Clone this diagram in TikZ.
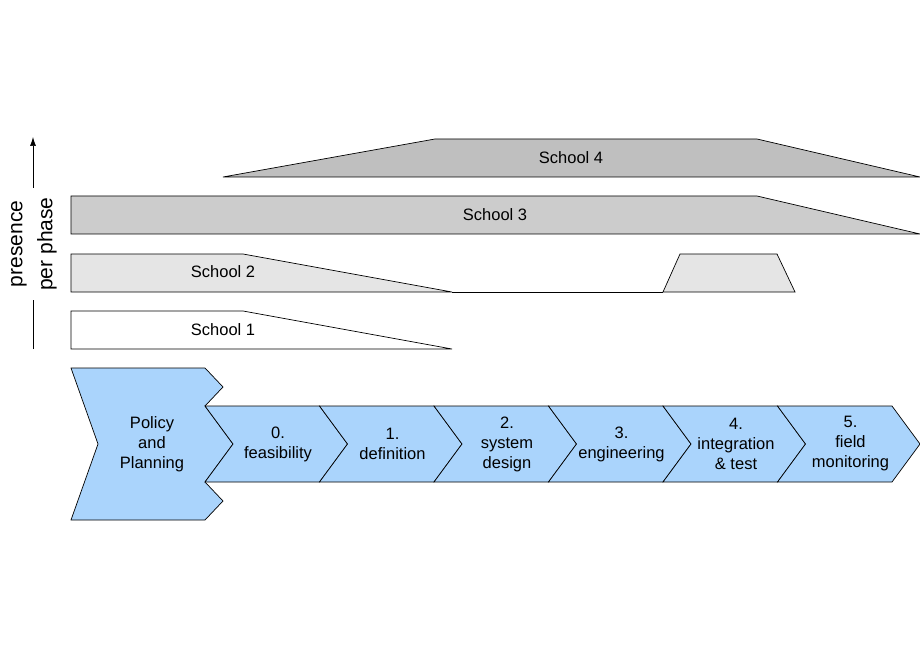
\documentclass[tikz,border=0pt]{standalone}
\usepackage{fontspec}
\setmainfont{Liberation Sans}
\usetikzlibrary{arrows.meta}
\begin{document}
\begin{tikzpicture}[x=1pt,y=-1pt,
  sh/.style={draw=black,line width=0.7pt,line join=miter},
  lbl/.style={font=\fontsize{16.5}{20}\selectfont,align=center}]
\definecolor{ph}{HTML}{AAD4FC}
\useasboundingbox (0,0) rectangle (920,660);
% schools
\draw[sh,fill=black!25] (223,177) -- (435,139) -- (757,139) -- (920,177) -- cycle;
\node[lbl] (s4) at (571,158) {School 4};
\draw[sh,fill=black!20] (71,196) -- (757,196) -- (920,234) -- (71,234) -- cycle;
\node[lbl] (s3) at (495,215) {School 3};
\draw[sh,fill=black!10] (71,254) -- (243,254) -- (452,292) -- (71,292) -- cycle;
\draw[sh] (452,292) -- (663,292);
\draw[sh,fill=black!10] (663,292) -- (680,254) -- (777,254) -- (795,292) -- cycle;
\node[lbl] (s2) at (223,272) {School 2};
\draw[sh,fill=white] (71,311) -- (243,311) -- (452,349) -- (71,349) -- cycle;
\node[lbl] (s1) at (223,330) {School 1};
% axis
\coordinate (a0) at (33,349);
\coordinate (a1) at (33,300);
\coordinate (a2) at (33,188);
\coordinate (a3) at (33,137);
\draw[line width=0.7pt] (a0) -- (a1);
\draw[line width=0.7pt,-{Latex[length=9pt,width=6pt]}] (a2) -- (a3);
\node[rotate=90,font=\fontsize{21}{24}\selectfont] (t1) at (19,244) {presence};
\node[rotate=90,font=\fontsize{21}{24}\selectfont] (t2) at (47,244) {per phase};
% policy
\draw[sh,fill=ph] (71,368) -- (205,368) -- (223,387) -- (205,406) -- (233,444) -- (205,482) -- (223,501) -- (205,520) -- (71,520) -- (98,444) -- cycle;
\node[lbl] (pp) at (152,444) {Policy\\and\\Planning};
% phases
\foreach \i/\t in {0/{0.\\feasibility},1/{1.\\definition},2/{2.\\system\\design},3/{3.\\engineering},4/{4.\\integration\\\& test},5/{5.\\field\\monitoring}}{
  \pgfmathsetmacro{\xa}{205+114.5*\i}
  \pgfmathsetmacro{\xb}{\xa+114.5}
  \draw[sh,fill=ph] (\xa,406) -- (\xb,406) -- (\xb+28,444) -- (\xb,482) -- (\xa,482) -- (\xa+28,444) -- cycle;
  \node[lbl] (p\i) at (\xa+73,444) {\t};
}
\end{tikzpicture}
\end{document}
